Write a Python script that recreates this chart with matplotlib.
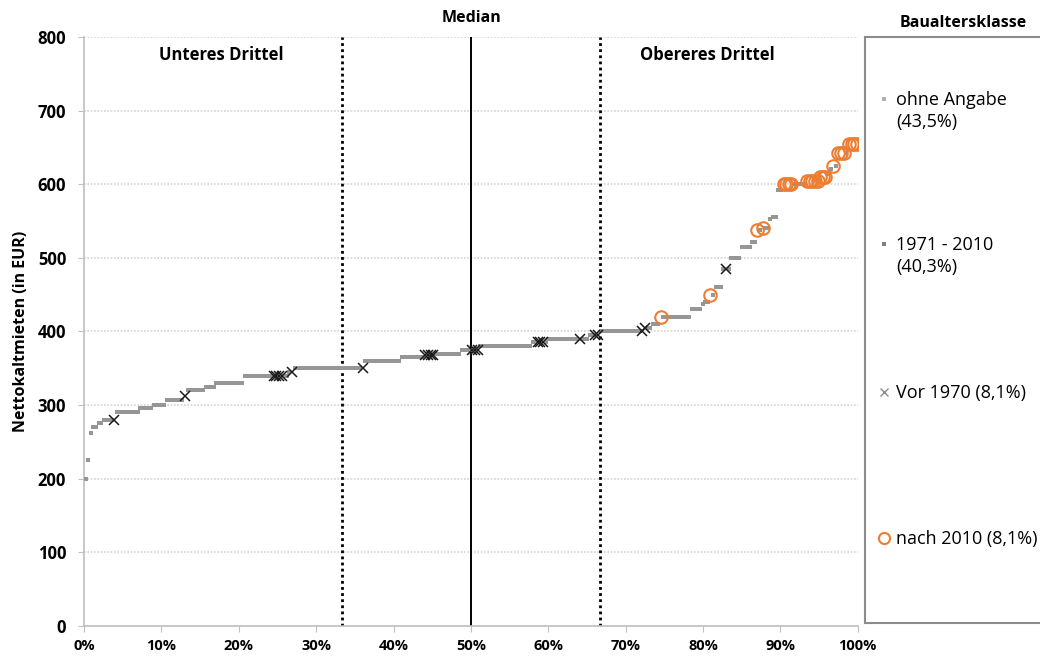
import numpy as np
import matplotlib.pyplot as plt

plt.rcParams['font.family'] = ['Open Sans', 'DejaVu Sans']

# sortierte Nettokaltmieten als Haeufigkeitstabelle (EUR, Anzahl Wohnungen)
miete_stufen = [200, 226, 262, 270, 276, 280, 290, 296, 300, 307, 312, 320, 325, 330,
                340, 345, 350, 360, 365, 368, 370, 375, 380, 386, 390, 395, 400, 405,
                410, 420, 430, 437, 440, 450, 460, 485, 500, 515, 522, 538, 540, 553,
                556, 592, 600, 605, 610, 614, 620, 625, 643, 655]
anzahl = [1, 1, 1, 2, 2, 5, 9, 5, 5, 7, 1, 7, 4, 11,
          17, 2, 27, 14, 9, 4, 10, 7, 20, 6, 16, 4, 17, 3,
          3, 12, 4, 1, 2, 2, 3, 3, 4, 4, 2, 2, 3, 1,
          2, 2, 9, 5, 3, 1, 1, 2, 4, 4]

# Rangplaetze (0 = niedrigste Miete) der Wohnungen je Baualtersklasse
rang_vor1970 = [11, 38, 72, 73, 74, 75, 79, 106, 130, 131, 132, 133, 148, 149, 150,
                173, 174, 175, 189, 195, 196, 213, 214, 245]
rang_nach2010 = [220, 239, 257, 259, 267, 268, 269, 270, 276, 277, 278, 279, 280,
                 281, 282, 283, 286, 288, 289, 290, 292, 293, 294, 295]

legende_texte = ['ohne Angabe\n(43,5%)', '1971 - 2010\n(40,3%)',
                 'Vor 1970 (8,1%)', 'nach 2010 (8,1%)']

yticks = [0, 100, 200, 300, 400, 500, 600, 700, 800]
xticks = [0, 10, 20, 30, 40, 50, 60, 70, 80, 90, 100]

miete = np.repeat(miete_stufen, anzahl)
n = len(miete)
perzentil = (np.arange(n) + 0.6) / n * 100

grau = np.ones(n, dtype=bool)
grau[rang_vor1970] = False
grau[rang_nach2010] = False

fig = plt.figure(figsize=(10.4, 6.6), dpi=100)
ax = fig.add_axes([0.0808, 0.0515, 0.744, 0.8925])

ax.plot(perzentil[grau], miete[grau], 's', ms=3.3, color='#969696', mew=0, zorder=3)
ax.plot(perzentil[rang_vor1970], miete[rang_vor1970], 'x', ms=7, mew=1.1,
        color='#1a1a1a', zorder=4)
ax.plot(perzentil[rang_nach2010], miete[rang_nach2010], 'o', ms=9, mfc='none',
        mew=1.5, color='#ed7d31', zorder=5)

ax.axvline(100 / 3, color='black', lw=2, linestyle=(0, (1, 1.2)), zorder=2)
ax.axvline(200 / 3, color='black', lw=2, linestyle=(0, (1, 1.2)), zorder=2)
ax.axvline(50, color='black', lw=1.4, zorder=2)

ax.set_xlim(0, 100)
ax.set_ylim(0, 800)
ax.set_yticks(yticks)
ax.set_xticks(xticks)
ax.set_xticklabels([f'{t}%' for t in xticks])
ax.tick_params(axis='both', colors='#bfbfbf', labelcolor='black', length=4.3)
ax.tick_params(axis='y', pad=8.5)
ax.tick_params(axis='x', pad=5)
for lab in ax.get_xticklabels():
    lab.set_fontweight('bold')
    lab.set_fontsize(10.5)
for lab in ax.get_yticklabels():
    lab.set_fontweight('bold')
    lab.set_fontsize(12)

ax.yaxis.grid(True, color='#d4d4d4', linestyle=(0, (1, 1)), lw=1.2, zorder=0)
ax.set_axisbelow(True)
for s in ['top', 'right']:
    ax.spines[s].set_visible(False)
for s in ['left', 'bottom']:
    ax.spines[s].set_color('#bfbfbf')
    ax.spines[s].set_linewidth(1.2)

ax.set_ylabel('Nettokaltmieten (in EUR)', fontsize=11.5, fontweight='bold', labelpad=6)

ax.text(17.8, 776, 'Unteres Drittel', ha='center', va='center', fontsize=12, fontweight='bold')
ax.text(80.6, 776, 'Obereres Drittel', ha='center', va='center', fontsize=12, fontweight='bold')
fig.text(0.453, 0.973, 'Median', ha='center', va='center', fontsize=11.5, fontweight='bold')

# Legende in eigenem Kasten rechts
lax = fig.add_axes([0.832, 0.056, 0.2, 0.888])
lax.set_xlim(0, 1)
lax.set_ylim(0, 1)
lax.set_xticks([])
lax.set_yticks([])
for s in lax.spines.values():
    s.set_color('#8c8c8c')
    s.set_linewidth(1.5)
fig.text(0.926, 0.965, 'Baualtersklasse', ha='center', va='center', fontsize=11.5,
         fontweight='bold')

stile = [dict(marker='s', ms=3, color='#b0b0b0', mew=0),
         dict(marker='s', ms=3, color='#7f7f7f', mew=0),
         dict(marker='x', ms=6, color='#8c8c8c', mew=1),
         dict(marker='o', ms=8, mfc='none', color='#ed7d31', mew=1.5)]
zeilen_y = [99, 244, 392, 538]
for txt, st, yp in zip(legende_texte, stile, zeilen_y):
    ya = (623 - yp) / (623 - 37)
    lax.plot([0.092], [ya], linestyle='none', **st)
    lax.text(0.148, ya + 0.013, txt, ha='left', va='top', fontsize=13, linespacing=1.25)

fig.savefig('out.png', dpi=100)
